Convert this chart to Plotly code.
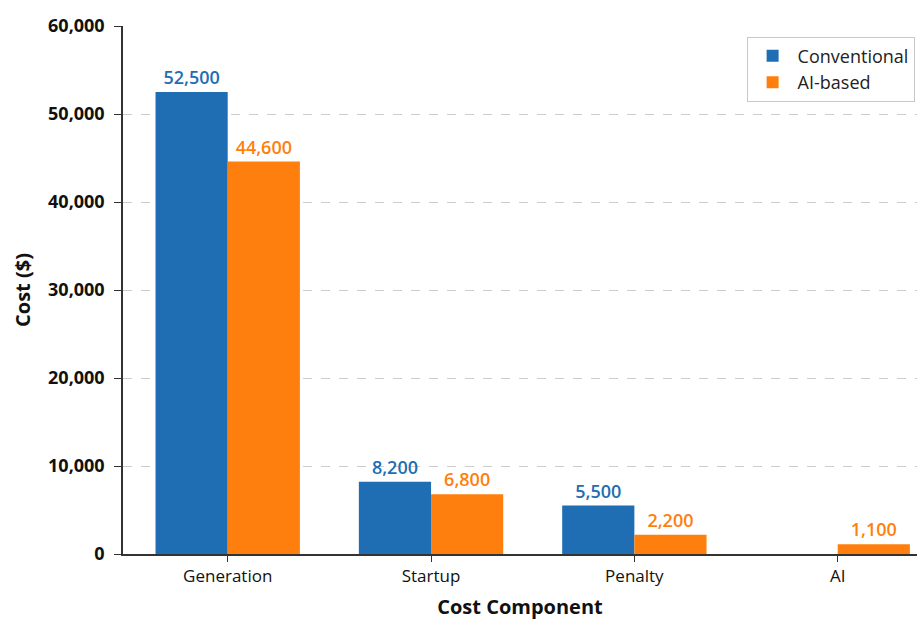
import plotly.graph_objects as go

categories = ["Generation", "Startup", "Penalty", "AI"]
conventional = [52500, 8200, 5500, 0]
ai_based = [44600, 6800, 2200, 1100]
y_ticks = [0, 10000, 20000, 30000, 40000, 50000, 60000]

BLUE = "#1f6db3"
ORANGE = "#ff7f0e"
FONT = "Open Sans, Noto Sans, DejaVu Sans, sans-serif"


def fmt(vals):
    return [f"{v:,}" if v > 0 else "" for v in vals]


fig = go.Figure()
fig.add_trace(go.Bar(
    x=categories, y=conventional, name="Conventional",
    marker=dict(color=BLUE, line=dict(width=0)),
    text=fmt(conventional), textposition="outside",
    textfont=dict(color=BLUE, size=18, family=FONT, weight=600),
    cliponaxis=False,
))
fig.add_trace(go.Bar(
    x=categories, y=ai_based, name="AI-based",
    marker=dict(color=ORANGE, line=dict(width=0)),
    text=fmt(ai_based), textposition="outside",
    textfont=dict(color=ORANGE, size=18, family=FONT, weight=600),
    cliponaxis=False,
))

fig.update_layout(
    width=917, height=620,
    margin=dict(l=123, r=0, t=26, b=66),
    barmode="group", bargap=0.29, bargroupgap=0,
    plot_bgcolor="white", paper_bgcolor="white",
    font=dict(family=FONT, color="#111111"),
    legend=dict(
        x=0.997, y=0.98, xanchor="right", yanchor="top",
        bgcolor="white", bordercolor="#c8c8c8", borderwidth=1,
        font=dict(size=18, family=FONT, color="#222222"),
        itemwidth=40, tracegroupgap=2,
    ),
    showlegend=True,
)

fig.update_xaxes(
    range=[-0.515, 3.39],
    showline=True, linecolor="#333333", linewidth=1.5,
    ticks="outside", ticklen=6, tickcolor="#333333",
    tickfont=dict(size=17, family=FONT, color="#111111", weight=500),
    title=dict(text="<b>Cost Component</b>", font=dict(size=20, family=FONT, color="#111111"),
               standoff=15),
    showgrid=False,
)
fig.update_yaxes(
    range=[0, 60000],
    tickvals=y_ticks,
    ticktext=[f"<b>{v:,}</b>" for v in y_ticks],
    showline=True, linecolor="#333333", linewidth=1.5,
    ticks="outside", ticklen=7, tickcolor="#333333",
    tickfont=dict(size=18, family=FONT, color="#111111"),
    ticklabelstandoff=6,
    title=dict(text="<b>Cost ($)</b>", font=dict(size=20, family=FONT, color="#111111"),
               standoff=12),
    showgrid=True, gridcolor="#cccccc", griddash="dash", gridwidth=1,
    zeroline=False,
)

fig.write_html("out.html")
